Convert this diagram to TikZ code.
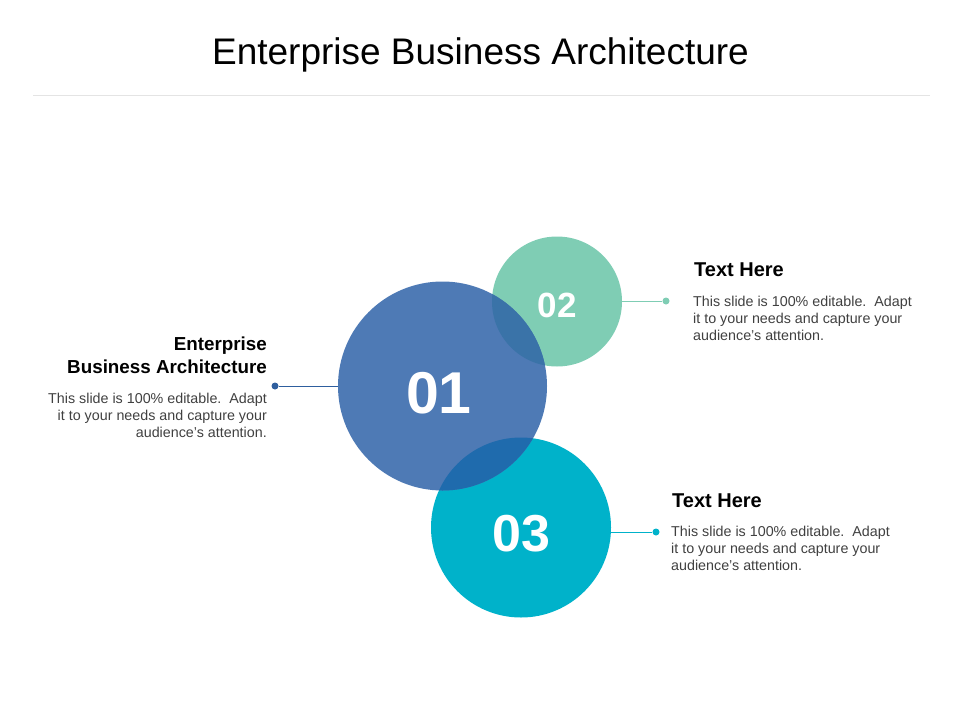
\documentclass[tikz,border=0pt]{standalone}
\usepackage{fontspec}
\setmainfont{Liberation Sans}
\usepackage{xcolor}
\usepackage{tikz}
\usetikzlibrary{positioning}

\definecolor{blueone}{HTML}{4E7AB5}
\definecolor{greentwo}{HTML}{7FCDB4}
\definecolor{cyanthree}{HTML}{00B2CA}
\definecolor{mixtwo}{HTML}{3A73A8}
\definecolor{mixthree}{HTML}{1F6BAD}
\definecolor{navyline}{HTML}{2E5E9E}
\definecolor{bodygray}{HTML}{404040}
\definecolor{rulegray}{HTML}{E4E4E4}

\begin{document}
\begin{tikzpicture}[x=1pt,y=-1pt,
  bubble/.style={circle,inner sep=0pt},
  num/.style={text=white,inner sep=0pt},
  dot/.style={circle,inner sep=0pt,minimum size=7pt},
  head/.style={font=\bfseries\fontsize{18.8}{23}\selectfont,inner sep=0pt},
  headr/.style={font=\bfseries\fontsize{20}{24}\selectfont,inner sep=0pt},
  body/.style={font=\fontsize{14.3}{17}\selectfont,text=bodygray,inner sep=0pt}]
\useasboundingbox (0,0) rectangle (960,720);

% Title
\node[font=\fontsize{37}{44}\selectfont,anchor=base] (title) at (480.5,64.3) {Enterprise Business Architecture};
\draw[rulegray,line width=1.5pt] (33,95.7) -- (930,95.7);

% Circles
\node[bubble,fill=greentwo,minimum size=130pt] (c2) at (557,301.5) {};
\node[bubble,fill=cyanthree,minimum size=180pt] (c3) at (521,527.5) {};
\node[bubble,fill=blueone,minimum size=209pt] (c1) at (442.5,386) {};
\begin{scope}
  \clip (c1.center) circle[radius=104.5];
  \fill[mixtwo] (c2.center) circle[radius=65];
  \fill[mixthree] (c3.center) circle[radius=90];
\end{scope}
\node[num,font=\bfseries\fontsize{59}{59}\selectfont] (n1) at (439,393.5) {01};
\node[num,font=\bfseries\fontsize{35}{35}\selectfont] (n2) at (557,305.5) {02};
\node[num,font=\bfseries\fontsize{52}{52}\selectfont] (n3) at (521,533.5) {03};

% Connectors
\node[dot,fill=navyline] (d1) at (275,386) {};
\draw[navyline,line width=1pt] (d1) -- (c1);
\node[dot,fill=greentwo] (d2) at (666,301) {};
\draw[greentwo,line width=1pt] (d2) -- (d2 -| c2.east);
\node[dot,fill=cyanthree] (d3) at (656,532) {};
\draw[cyanthree,line width=1pt] (d3) -- (d3 -| c3.east);

% Texts (base = last line)
\node[head,anchor=base east,align=right] (h1) at (267,373) {Enterprise\\Business Architecture};
\node[body,anchor=base east,align=right] (b1) at (267,437) {This slide is 100\% editable.\ \ Adapt\\it to your needs and capture your\\audience's attention.};
\node[headr,anchor=base west] (h2) at (694,276.7) {Text Here};
\node[body,anchor=base west,align=left] (b2) at (693,340.7) {This slide is 100\% editable.\ \ Adapt\\it to your needs and capture your\\audience's attention.};
\node[headr,anchor=base west] (h3) at (672,507.3) {Text Here};
\node[body,anchor=base west,align=left] (b3) at (671,570.7) {This slide is 100\% editable.\ \ Adapt\\it to your needs and capture your\\audience's attention.};
\end{tikzpicture}
\end{document}
